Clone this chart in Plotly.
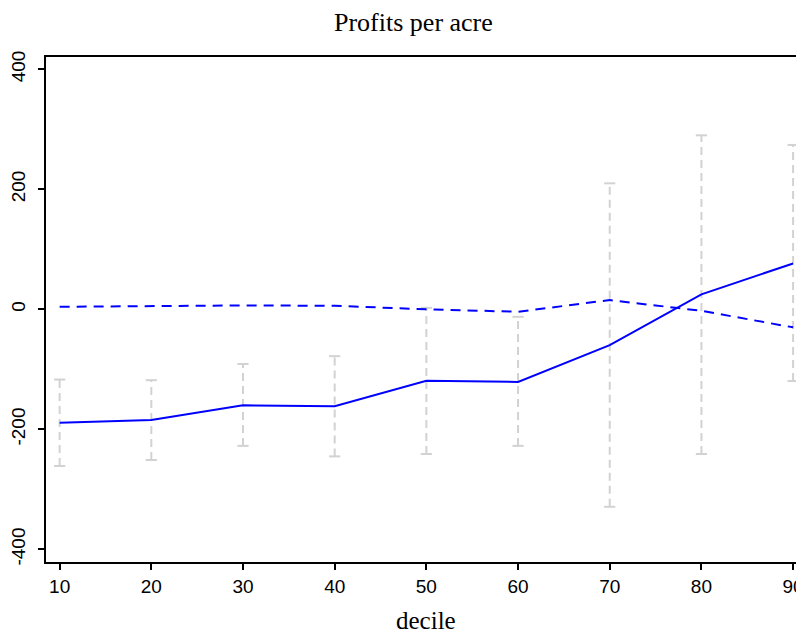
import plotly.graph_objects as go

deciles = [10, 20, 30, 40, 50, 60, 70, 80, 90]
profit_solid = [-189, -184.5, -160, -161.5, -119, -121, -59.5, 25, 76.5]
profit_dashed = [4.3, 6, 6.5, 6, 0, -4, 15.5, -2.5, -30]
ci_upper = [-117, -118, -91, -78, 2.5, -12.5, 210, 290, 274]
ci_lower = [-261, -251, -227.5, -245, -241, -227.5, -329, -241, -119.5]

y_ticks = [-400, -200, 0, 200, 400]
x_ticks = deciles

grey = "#d2d2d2"
blue = "#0000ff"

# CI vertical dashed segments
ci_x, ci_y = [], []
for d, lo, hi in zip(deciles, ci_lower, ci_upper):
    ci_x += [d, d, None]
    ci_y += [lo, hi, None]

fig = go.Figure()
fig.add_trace(go.Scatter(x=ci_x, y=ci_y, mode="lines",
                         line=dict(color=grey, width=2, dash="8px,5px"),
                         hoverinfo="skip", showlegend=False))
fig.add_trace(go.Scatter(x=deciles + deciles, y=ci_upper + ci_lower, mode="markers",
                         marker=dict(symbol="line-ew", size=8,
                                     line=dict(color=grey, width=2)),
                         hoverinfo="skip", showlegend=False))
fig.add_trace(go.Scatter(x=deciles, y=profit_dashed, mode="lines",
                         line=dict(color=blue, width=2, dash="10px,7px"),
                         showlegend=False))
fig.add_trace(go.Scatter(x=deciles, y=profit_solid, mode="lines",
                         line=dict(color=blue, width=2),
                         showlegend=False))

tickfont = dict(family="Liberation Sans, Arial, sans-serif", size=19, color="black")
serif = "Liberation Serif, Times New Roman, serif"

fig.update_layout(
    width=796, height=628,
    margin=dict(l=36, r=0, t=49, b=74),
    paper_bgcolor="white", plot_bgcolor="white",
    xaxis=dict(range=[8.512, 91.08], tickvals=x_ticks,
               ticktext=[str(v) for v in x_ticks],
               ticks="outside", ticklen=6, tickwidth=1.5, tickcolor="black",
               ticklabeloverflow="allow",
               showline=True, linecolor="black", linewidth=1.5, mirror=True,
               showgrid=False, zeroline=False, tickfont=tickfont),
    yaxis=dict(range=[-421, 420.5], tickvals=y_ticks,
               ticktext=[str(v) for v in y_ticks],
               ticks="outside", ticklen=6, tickwidth=1.5, tickcolor="black",
               tickangle=-90, ticklabelstandoff=6,
               showline=True, linecolor="black", linewidth=1.5, mirror=False,
               showgrid=False, zeroline=False, tickfont=tickfont),
    annotations=[
        dict(text="Profits per acre", xref="paper", yref="paper",
             x=0.485, y=1.069, xanchor="center", yanchor="middle",
             showarrow=False, font=dict(family=serif, size=26, color="black")),
        dict(text="decile", xref="paper", yref="paper",
             x=0.502, y=-0.1166, xanchor="center", yanchor="middle",
             showarrow=False, font=dict(family=serif, size=25, color="black")),
    ],
)

fig.write_html("out.html")
